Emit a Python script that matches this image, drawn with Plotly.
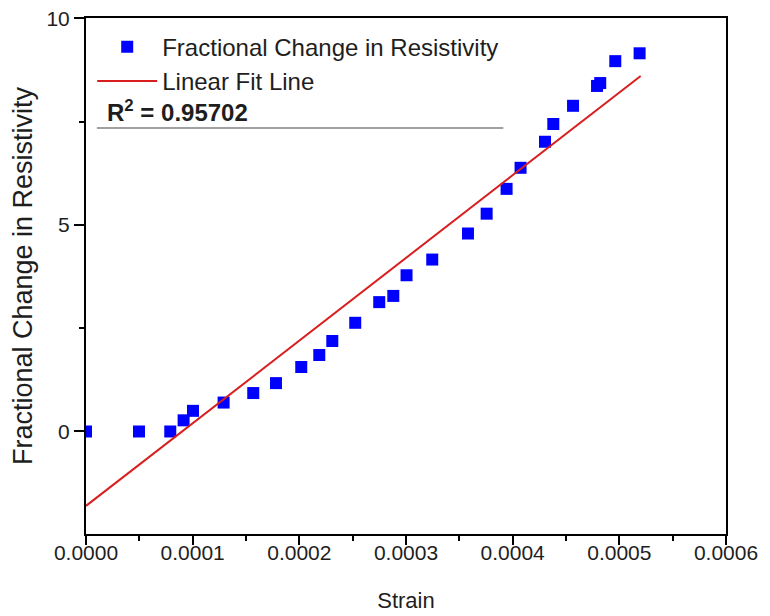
import plotly.graph_objects as go

# Data
strain = [0.0, 0.0000497, 0.0000790, 0.0000915, 0.0001003, 0.0001290, 0.0001568,
          0.0001781, 0.0002018, 0.0002187, 0.0002309, 0.0002524, 0.0002749, 0.0002881,
          0.0003005, 0.0003246, 0.0003581, 0.0003756, 0.0003943, 0.0004074, 0.0004303,
          0.0004381, 0.0004566, 0.0004791, 0.0004821, 0.0004962, 0.0005190]
frac_change = [0.0, 0.0, 0.0, 0.27, 0.50, 0.70, 0.93,
               1.17, 1.56, 1.85, 2.19, 2.63, 3.13, 3.28,
               3.78, 4.16, 4.79, 5.27, 5.87, 6.38, 7.01,
               7.44, 7.88, 8.36, 8.43, 8.96, 9.15]

fit_x = [0.0, 0.00052]
fit_y = [-1.80, 8.60]

r_squared = "0.95702"

x_ticks = [0.0, 0.0001, 0.0002, 0.0003, 0.0004, 0.0005, 0.0006]
y_ticks = [0, 5, 10]

FONT = "Liberation Sans, Arial, sans-serif"
TXT = "#1e1e1e"

fig = go.Figure()
fig.add_trace(go.Scatter(
    x=strain, y=frac_change, mode="markers",
    name="Fractional Change in Resistivity",
    marker=dict(symbol="square", size=12, color="#0000FF", line=dict(width=0)),
))
fig.add_trace(go.Scatter(
    x=fit_x, y=fit_y, mode="lines", name="Linear Fit Line",
    line=dict(color="#D81E1E", width=2),
))

fig.update_layout(
    width=770, height=616,
    margin=dict(l=78, r=52, t=10, b=90),
    paper_bgcolor="white", plot_bgcolor="white",
    font=dict(family=FONT, color=TXT, size=21),
    showlegend=True,
    legend=dict(
        x=0.0097, y=0.987, xanchor="left", yanchor="top",
        bgcolor="rgba(0,0,0,0)", font=dict(size=24, family=FONT, color=TXT),
        itemwidth=60, tracegroupgap=0,
    ),
    xaxis=dict(
        range=[0, 0.0006], tickvals=x_ticks, tickformat=".4f",
        showgrid=False, zeroline=False, automargin=False,
        showline=True, linecolor="black", linewidth=2, mirror=True,
        ticks="outside", ticklen=9, tickwidth=2, tickcolor="black",
        minor=dict(ticks="outside", ticklen=5, tickwidth=2, tickcolor="black", dtick=0.00005),
        tickfont=dict(size=21, family=FONT, color=TXT), ticklabelstandoff=-10,
        ticklabeloverflow="allow",
        title=dict(text="Strain", font=dict(size=22, family=FONT, color=TXT), standoff=29),
    ),
    yaxis=dict(
        range=[-2.48, 10.004], tickvals=y_ticks,
        showgrid=False, zeroline=False, automargin=False,
        showline=True, linecolor="black", linewidth=2, mirror=True,
        ticks="outside", ticklen=10, tickwidth=2, tickcolor="black",
        minor=dict(ticks="outside", ticklen=5, tickwidth=2, tickcolor="black", dtick=2.5),
        tickfont=dict(size=21, family=FONT, color=TXT), ticklabeloverflow="allow",
        title=dict(text="Fractional Change in Resistivity",
                   font=dict(size=27, family=FONT, color=TXT), standoff=9),
    ),
)

fig.add_annotation(
    xref="paper", yref="paper", x=0.029, y=0.82, xanchor="left", yanchor="middle",
    text="<b>R<sup>2</sup> = " + r_squared + "</b>", showarrow=False,
    font=dict(size=24, family=FONT, color=TXT),
)
fig.add_shape(
    type="line", xref="paper", yref="paper",
    x0=0.017, x1=0.652, y0=0.7867, y1=0.7867,
    line=dict(color="#808080", width=1.5),
)

fig.write_html("out.html")
